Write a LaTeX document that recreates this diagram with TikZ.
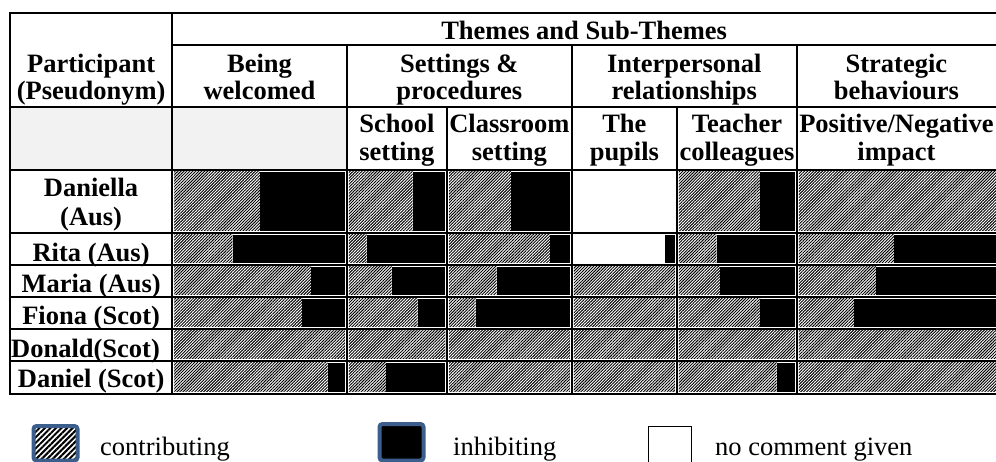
\documentclass[tikz,border=0pt]{standalone}
\usepackage{fontspec}
\setmainfont{Liberation Serif}
\usetikzlibrary{patterns.meta}
\definecolor{legblue}{HTML}{3B5E8C}
\definecolor{hdrgray}{HTML}{F2F2F2}
\newcommand\mycell[5]{%
  \fill[hatchfill] (#1+2,#3+2) rectangle (#5,#4-2);
  \fill[black] (#5,#3+2) rectangle (#2-2,#4-2);}
\begin{document}
\begin{tikzpicture}[x=1pt,y=-1pt,
  hatchfill/.style={pattern={Lines[angle=45,distance=2.1pt,line width=0.95pt]},pattern color=black},
  grid/.style={line width=2.2pt,black},
  tx/.style={font=\fontsize{26.5}{27.5}\selectfont\bfseries,inner sep=0pt,anchor=base},
  lg/.style={font=\fontsize{26.5}{27.5}\selectfont,inner sep=0pt,anchor=base west},
  icon/.style={draw=legblue,line width=4pt,rounded corners=3pt}]
\useasboundingbox (0,0) rectangle (996,462);
% gray sub-theme cells
\fill[hdrgray] (10,107.3) rectangle (346.8,170);
% Daniella
\mycell{172.2}{346.8}{170}{232.8}{260}
\mycell{346.8}{447}{170}{232.8}{412.7}
\mycell{447}{571.8}{170}{232.8}{511}
\mycell{676.9}{796.8}{170}{232.8}{760}
\mycell{796.8}{998}{170}{232.8}{998}
% Rita
\mycell{172.2}{346.8}{232.8}{265}{232.7}
\mycell{346.8}{447}{232.8}{265}{366.7}
\mycell{447}{571.8}{232.8}{265}{550}
\fill[black] (665,232.8+2) rectangle (676.9-2,265-2);
\mycell{676.9}{796.8}{232.8}{265}{716.7}
\mycell{796.8}{998}{232.8}{265}{894}
% Maria
\mycell{172.2}{346.8}{265}{296.8}{311}
\mycell{346.8}{447}{265}{296.8}{391.7}
\mycell{447}{571.8}{265}{296.8}{496.7}
\mycell{571.8}{676.9}{265}{296.8}{674.9}
\mycell{676.9}{796.8}{265}{296.8}{720}
\mycell{796.8}{998}{265}{296.8}{876}
% Fiona
\mycell{172.2}{346.8}{296.8}{328.8}{302.3}
\mycell{346.8}{447}{296.8}{328.8}{417.7}
\mycell{447}{571.8}{296.8}{328.8}{475.7}
\mycell{571.8}{676.9}{296.8}{328.8}{674.9}
\mycell{676.9}{796.8}{296.8}{328.8}{760}
\mycell{796.8}{998}{296.8}{328.8}{854}
% Donald
\mycell{172.2}{346.8}{328.8}{360.8}{344.8}
\mycell{346.8}{447}{328.8}{360.8}{445}
\mycell{447}{571.8}{328.8}{360.8}{569.8}
\mycell{571.8}{676.9}{328.8}{360.8}{674.9}
\mycell{676.9}{796.8}{328.8}{360.8}{794.8}
\mycell{796.8}{998}{328.8}{360.8}{998}
% Daniel
\mycell{172.2}{346.8}{360.8}{393.7}{327.7}
\mycell{346.8}{447}{360.8}{393.7}{386}
\mycell{447}{571.8}{360.8}{393.7}{569.8}
\mycell{571.8}{676.9}{360.8}{393.7}{674.9}
\mycell{676.9}{796.8}{360.8}{393.7}{776.7}
\mycell{796.8}{998}{360.8}{393.7}{998}
% grid
\draw[grid] (10,12.7) -- (998,12.7);
\draw[grid] (172.2,45) -- (998,45);
\foreach \yy in {107.3,170,232.8,265,296.8,328.8,360.8,393.7}
  \draw[grid] (10,\yy) -- (998,\yy);
\draw[grid] (10,11.6) -- (10,394.8);
\draw[grid] (172.2,12.7) -- (172.2,393.7);
\foreach \xx in {346.8,571.8,796.8}
  \draw[grid] (\xx,45) -- (\xx,393.7);
\foreach \xx in {447,676.9}
  \draw[grid] (\xx,107.3) -- (\xx,393.7);
% header texts
\node[tx] (themes) at (584.1,39.3) {Themes and Sub-Themes};
\node[tx] (part1) at (91.1,72.7) {Participant};
\node[tx] (part2) at (91.1,100) {(Pseudonym)};
\node[tx] (bw1) at (259.5,72.7) {Being};
\node[tx] (bw2) at (259.5,100) {welcomed};
\node[tx] (sp1) at (459.3,72.7) {Settings \&};
\node[tx] (sp2) at (459.3,100) {procedures};
\node[tx] (ir1) at (684.3,72.7) {Interpersonal};
\node[tx] (ir2) at (684.3,100) {relationships};
\node[tx] (sb1) at (896.4,72.7) {Strategic};
\node[tx] (sb2) at (896.4,100) {behaviours};
\node[tx] (ss1) at (396.9,132.7) {School};
\node[tx] (ss2) at (396.9,160.5) {setting};
\node[tx] (cs1) at (509.4,132.7) {Classroom};
\node[tx] (cs2) at (509.4,160.5) {setting};
\node[tx] (tp1) at (624.4,132.7) {The};
\node[tx] (tp2) at (624.4,160.5) {pupils};
\node[tx] (tc1) at (736.9,132.7) {Teacher};
\node[tx] (tc2) at (736.9,160.5) {colleagues};
\node[tx] (pn1) at (896.4,132.7) {Positive/Negative};
\node[tx] (pn2) at (896.4,160.5) {impact};
% participants
\node[tx] (dla1) at (91.1,197) {Daniella};
\node[tx] (dla2) at (91.1,226) {(Aus)};
\node[tx] (rita) at (91.1,261.5) {Rita (Aus)};
\node[tx] (maria) at (91.1,293) {Maria (Aus)};
\node[tx] (fiona) at (91.1,325) {Fiona (Scot)};
\node[tx] (donald) at (85.5,357.5) {Donald(Scot)};
\node[tx] (daniel) at (91.1,387.5) {Daniel (Scot)};
% legend
\draw[icon,pattern={Lines[angle=45,distance=3.9pt,line width=2pt]},pattern color=black] (33.5,426) rectangle (77.5,460.5);
\draw[icon,fill=black] (379.5,424) rectangle (423.5,460.5);
\draw[black,line width=1.3pt] (648.3,426.3) rectangle (691.7,466);
\node[lg] (lc) at (100,455) {contributing};
\node[lg] (li) at (453,455) {inhibiting};
\node[lg] (ln) at (715,455) {no comment given};
\end{tikzpicture}
\end{document}
